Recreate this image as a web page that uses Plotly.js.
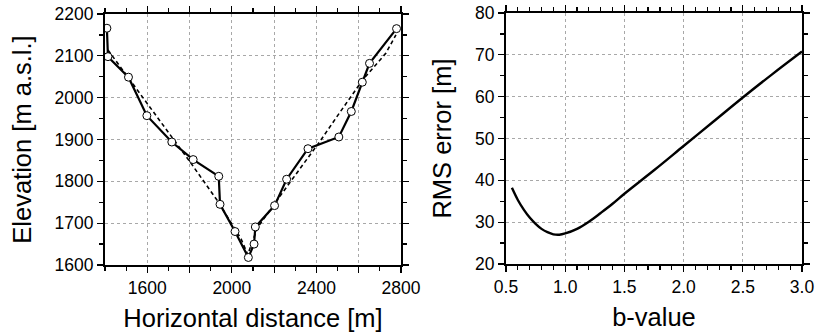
<!DOCTYPE html>
<html>
<head>
<meta charset="utf-8">
<script src="https://cdn.plot.ly/plotly-3.0.1.min.js"></script>
<style>html,body{margin:0;padding:0;background:#fff;}#chart{width:818px;height:336px;}</style>
</head>
<body>
<div id="chart"></div>
<script>
// Left panel: measured valley cross-section (solid, open circles)
const profileX = [1409, 1414, 1511, 1598, 1716, 1817, 1938, 1944, 2015, 2078, 2105, 2111, 2202, 2259, 2360, 2506, 2565, 2617, 2651, 2779];
const profileY = [2166, 2098, 2049, 1957, 1894, 1852, 1812, 1745, 1680, 1618, 1650, 1691, 1742, 1805, 1878, 1906, 1967, 2037, 2082, 2165];
// Left panel: fitted profile (dashed)
const fitX = [1414, 1550, 1700, 1800, 1930, 2044, 2075, 2122, 2264, 2413, 2507, 2618, 2728, 2776];
const fitY = [2114, 2020, 1917, 1848, 1755, 1662, 1625, 1690, 1790, 1893, 1962, 2042, 2106, 2150];
// Right panel: RMS error vs b-value
const bValue = [0.55, 0.6, 0.65, 0.7, 0.75, 0.8, 0.85, 0.9, 0.95, 1.0, 1.1, 1.2, 1.3, 1.4, 1.5, 1.75, 2.0, 2.25, 2.5, 2.75, 3.0];
const rmsError = [38.2, 35.3, 33.0, 31.1, 29.6, 28.4, 27.6, 27.1, 27.0, 27.3, 28.4, 30.1, 32.2, 34.4, 36.8, 42.4, 48.2, 54.0, 59.8, 65.4, 70.8];
// Tick labels
const xTickVals = [1600, 1800, 2000, 2200, 2400, 2600, 2800];
const xTickText = ['1600', '', '2000', '', '2400', '', '2800'];

const W = 818, H = 336;
const font = {family: 'Liberation Sans, Arial, Helvetica, sans-serif', color: '#000'};
const tickFont = Object.assign({}, font, {size: 17.5});
const titleFont = Object.assign({}, font, {size: 25.5});

const common = {
  showline: true, linewidth: 2, linecolor: '#000', mirror: 'ticks',
  ticks: 'outside', ticklen: 6, tickwidth: 1.2, tickcolor: '#000',
  showgrid: true, gridcolor: '#a8a8a8', griddash: 'dot', gridwidth: 1,
  zeroline: false, tickfont: tickFont, automargin: false, fixedrange: true
};

const traces = [
  {x: fitX, y: fitY, xaxis: 'x', yaxis: 'y', mode: 'lines', type: 'scatter',
   line: {color: '#000', width: 1.6, dash: '4px,3px'}, hoverinfo: 'skip'},
  {x: profileX, y: profileY, xaxis: 'x', yaxis: 'y', mode: 'lines+markers', type: 'scatter',
   line: {color: '#000', width: 2.2},
   marker: {symbol: 'circle', size: 8, color: '#fff', line: {color: '#000', width: 1}}},
  {x: bValue, y: rmsError, xaxis: 'x2', yaxis: 'y2', mode: 'lines', type: 'scatter',
   line: {color: '#000', width: 2.4, shape: 'spline', smoothing: 1}}
];

const layout = {
  width: W, height: H,
  margin: {l: 0, r: 0, t: 0, b: 0},
  paper_bgcolor: '#fff', plot_bgcolor: '#fff',
  showlegend: false,
  font: font,
  xaxis: Object.assign({}, common, {
    domain: [105 / W, 401 / W], range: [1400, 2800], anchor: 'y',
    tickmode: 'array', tickvals: xTickVals, ticktext: xTickText,
    minor: {dtick: 100, tick0: 1400, ticklen: 4, tickcolor: '#000', showgrid: false},
    title: {text: 'Horizontal distance [m]', font: titleFont, standoff: 12}
  }),
  yaxis: Object.assign({}, common, {
    domain: [1 - 265 / H, 1 - 14 / H], range: [1600, 2200], anchor: 'x',
    dtick: 100, tick0: 1600,
    minor: {dtick: 50, ticklen: 4, tickcolor: '#000', showgrid: false},
    title: {text: 'Elevation [m a.s.l.]', font: titleFont, standoff: 16}
  }),
  xaxis2: Object.assign({}, common, {
    domain: [506 / W, 802 / W], range: [0.5, 3.0], anchor: 'y2',
    dtick: 0.5, tick0: 0.5, tickformat: '.1f',
    minor: {dtick: 0.1, ticklen: 4, tickcolor: '#000', showgrid: false},
    title: {text: 'b-value', font: titleFont, standoff: 12}
  }),
  yaxis2: Object.assign({}, common, {
    domain: [1 - 264 / H, 1 - 13 / H], range: [20, 80], anchor: 'x2',
    dtick: 10, tick0: 20,
    minor: {dtick: 5, ticklen: 4, tickcolor: '#000', showgrid: false},
    title: {text: 'RMS error [m]', font: titleFont, standoff: 16}
  })
};

Plotly.newPlot('chart', traces, layout, {displayModeBar: false, staticPlot: true});
</script>
</body>
</html>
